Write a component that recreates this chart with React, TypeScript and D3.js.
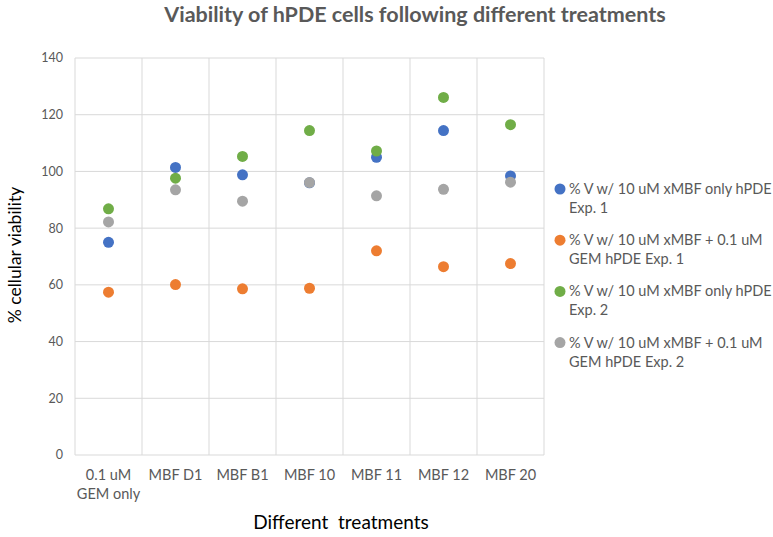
import React from "react";
import { scaleBand, scaleLinear, range } from "d3";

// treatments along the x axis (first one wraps on two lines)
const categories = [
  ["0.1 uM", "GEM only"],
  ["MBF D1"],
  ["MBF B1"],
  ["MBF 10"],
  ["MBF 11"],
  ["MBF 12"],
  ["MBF 20"],
];

const exp1Only = [75, 101.4, 98.8, 96, 105, 114.4, 98.4];
const exp1Gem = [57.4, 60.1, 58.6, 58.8, 72, 66.4, 67.5];
const exp2Only = [86.8, 97.6, 105.3, 114.4, 107.2, 126.1, 116.5];
const exp2Gem = [82.2, 93.5, 89.5, 96.1, 91.4, 93.7, 96.2];

const yTicks = [0, 20, 40, 60, 80, 100, 120, 140];

const series = [
  { name: ["% V w/ 10 uM xMBF only hPDE", "Exp. 1"], color: "#4472C4", values: exp1Only },
  { name: ["% V w/ 10 uM xMBF + 0.1 uM", "GEM hPDE Exp. 1"], color: "#ED7D31", values: exp1Gem },
  { name: ["% V w/ 10 uM xMBF only hPDE", "Exp. 2"], color: "#70AD47", values: exp2Only },
  { name: ["% V w/ 10 uM xMBF + 0.1 uM", "GEM hPDE Exp. 2"], color: "#A5A5A5", values: exp2Gem },
];

const W = 773;
const H = 537;
const margin = { left: 75, right: 229, top: 58, bottom: 82 };
const font = "Lato, 'Open Sans', sans-serif";

export default function App() {
  const x = scaleBand<number>()
    .domain(range(categories.length))
    .range([margin.left, W - margin.right]);
  const y = scaleLinear().domain([0, 140]).range([H - margin.bottom, margin.top]);
  const grid = "#D9D9D9";

  return (
    <svg width={W} height={H} style={{ position: "absolute", left: 0, top: 0, background: "#fff" }}>
      <text x={415} y={22} textAnchor="middle" fontFamily={font} fontWeight="bold" fontSize={21.5} fill="#595959">
        Viability of hPDE cells following different treatments
      </text>

      {/* horizontal gridlines + y ticks */}
      {yTicks.map((t) => (
        <g key={t}>
          <line x1={margin.left} x2={W - margin.right} y1={y(t)} y2={y(t)} stroke={grid} />
          <text x={63} y={y(t)} dy="0.35em" textAnchor="end" fontFamily={font} fontSize={12.5} fill="#595959">
            {t}
          </text>
        </g>
      ))}

      {/* vertical gridlines at category boundaries */}
      {range(categories.length + 1).map((i) => {
        const xx = margin.left + i * x.step();
        return <line key={i} x1={xx} x2={xx} y1={y(140)} y2={y(0)} stroke={grid} />;
      })}

      {categories.map((c, i) => (
        <text key={i} textAnchor="middle" fontFamily={font} fontSize={14.5} fill="#595959">
          {c.map((l, j) => (
            <tspan key={j} x={x(i)! + x.bandwidth() / 2} y={480 + j * 19}>
              {l}
            </tspan>
          ))}
        </text>
      ))}

      {series.map((s) =>
        s.values.map((v, i) => (
          <circle key={s.color + i} cx={x(i)! + x.bandwidth() / 2} cy={y(v)} r={5.5} fill={s.color} />
        ))
      )}

      <text transform="translate(21,255) rotate(-90)" textAnchor="middle" fontFamily={font} fontSize={17.5} fill="#000">
        % cellular viability
      </text>
      <text x={341} y={529} textAnchor="middle" fontFamily={font} fontSize={19} fill="#000" style={{ whiteSpace: "pre" }}>
        Different  treatments
      </text>

      {series.map((s, i) => {
        const ly = 189 + i * 51.2;
        return (
          <g key={i}>
            <circle cx={560} cy={ly} r={5.5} fill={s.color} />
            <text fontFamily={font} fontSize={14.5} fill="#595959">
              <tspan x={569} y={ly} dy="0.35em">{s.name[0]}</tspan>
              <tspan x={569} y={ly + 19} dy="0.35em">{s.name[1]}</tspan>
            </text>
          </g>
        );
      })}
    </svg>
  );
}
